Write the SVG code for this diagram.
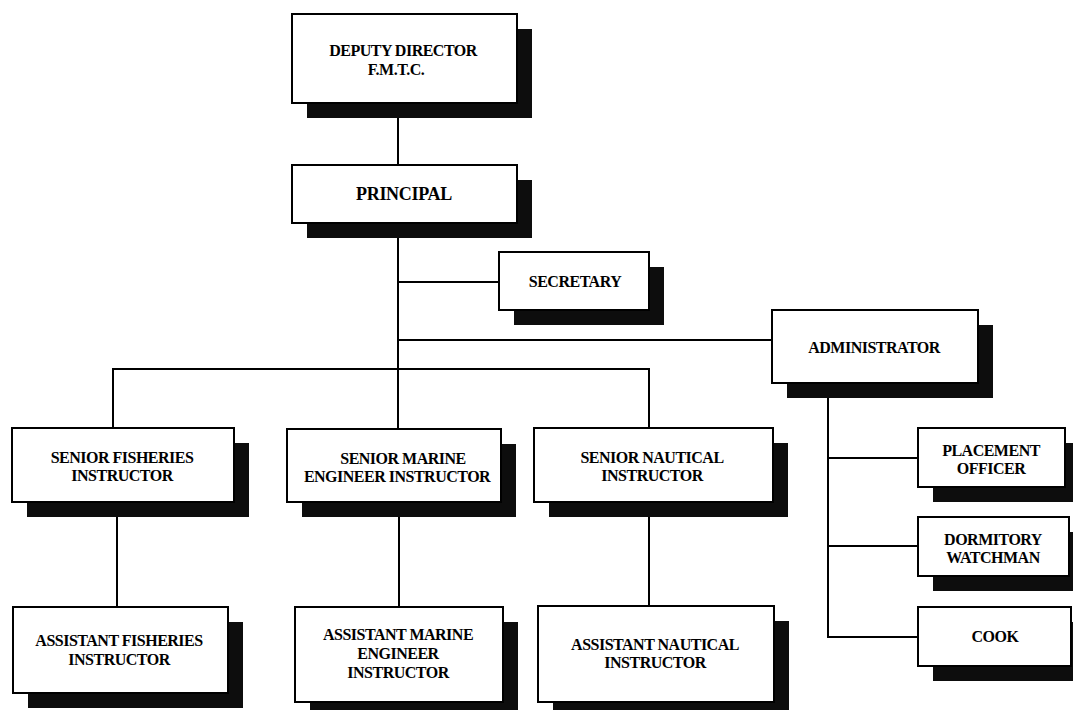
<svg xmlns="http://www.w3.org/2000/svg" width="1073" height="710" viewBox="0 0 1073 710">
<style>
.sh{fill:#0d0d0d}
.bx{fill:#fff;stroke:#000;stroke-width:2}
.ln{stroke:#000;stroke-width:2;fill:none}
.t{font-family:"Liberation Serif","Times New Roman",serif;font-weight:bold;font-size:16px;text-anchor:middle;letter-spacing:-0.5px;fill:#000}
.big{font-size:18px;letter-spacing:-0.3px}
</style>
<rect width="1073" height="710" fill="#fff"/>
<g id="connectors">
<path class="ln" d="M398 103V428"/>
<path class="ln" d="M398 282H499"/>
<path class="ln" d="M398 340H772"/>
<path class="ln" d="M113 428V369H649V428"/>
<path class="ln" d="M117 502V607"/>
<path class="ln" d="M399 502V607"/>
<path class="ln" d="M649 502V606"/>
<path class="ln" d="M828 383V637H918"/>
<path class="ln" d="M828 458H918"/>
<path class="ln" d="M828 546H918"/>
</g>
<g id="deputy-director">
<rect class="sh" x="307" y="29" width="225" height="89"/>
<rect class="bx" x="292" y="14" width="225" height="89"/>
<text class="t" x="403" y="56">DEPUTY DIRECTOR</text>
<text class="t" x="396" y="75">F.M.T.C.</text>
</g>
<g id="principal">
<rect class="sh" x="307" y="180" width="225" height="58"/>
<rect class="bx" x="292" y="165" width="225" height="58"/>
<text class="t big" x="404" y="200">PRINCIPAL</text>
</g>
<g id="secretary">
<rect class="sh" x="514" y="267" width="150" height="58"/>
<rect class="bx" x="499" y="252" width="150" height="58"/>
<text class="t" x="575" y="287">SECRETARY</text>
</g>
<g id="administrator">
<rect class="sh" x="787" y="325" width="206" height="73"/>
<rect class="bx" x="772" y="310" width="206" height="73"/>
<text class="t" x="874" y="353">ADMINISTRATOR</text>
</g>
<g id="senior-fisheries">
<rect class="sh" x="27" y="443" width="222" height="74"/>
<rect class="bx" x="12" y="428" width="222" height="74"/>
<text class="t" x="122" y="463">SENIOR FISHERIES</text>
<text class="t" x="122" y="481">INSTRUCTOR</text>
</g>
<g id="senior-marine">
<rect class="sh" x="302" y="444" width="214" height="73"/>
<rect class="bx" x="287" y="429" width="214" height="73"/>
<text class="t" x="403" y="464">SENIOR MARINE</text>
<text class="t" x="397" y="482">ENGINEER INSTRUCTOR</text>
</g>
<g id="senior-nautical">
<rect class="sh" x="549" y="443" width="239" height="74"/>
<rect class="bx" x="534" y="428" width="239" height="74"/>
<text class="t" x="652" y="463">SENIOR NAUTICAL</text>
<text class="t" x="652" y="481">INSTRUCTOR</text>
</g>
<g id="assistant-fisheries">
<rect class="sh" x="28" y="622" width="215" height="86"/>
<rect class="bx" x="13" y="607" width="215" height="86"/>
<text class="t" x="119" y="646">ASSISTANT FISHERIES</text>
<text class="t" x="119" y="665">INSTRUCTOR</text>
</g>
<g id="assistant-marine">
<rect class="sh" x="310" y="622" width="208" height="95"/>
<rect class="bx" x="295" y="607" width="208" height="95"/>
<text class="t" x="398" y="640">ASSISTANT MARINE</text>
<text class="t" x="398" y="659">ENGINEER</text>
<text class="t" x="398" y="678">INSTRUCTOR</text>
</g>
<g id="assistant-nautical">
<rect class="sh" x="553" y="621" width="236" height="96"/>
<rect class="bx" x="538" y="606" width="236" height="96"/>
<text class="t" x="655" y="650">ASSISTANT NAUTICAL</text>
<text class="t" x="655" y="668">INSTRUCTOR</text>
</g>
<g id="placement-officer">
<rect class="sh" x="933" y="443" width="147" height="59"/>
<rect class="bx" x="918" y="428" width="147" height="59"/>
<text class="t" x="991" y="456">PLACEMENT</text>
<text class="t" x="991" y="474">OFFICER</text>
</g>
<g id="dormitory-watchman">
<rect class="sh" x="933" y="532" width="151" height="59"/>
<rect class="bx" x="918" y="517" width="151" height="59"/>
<text class="t" x="993" y="545">DORMITORY</text>
<text class="t" x="993" y="563">WATCHMAN</text>
</g>
<g id="cook">
<rect class="sh" x="933" y="622" width="153" height="59"/>
<rect class="bx" x="918" y="607" width="153" height="59"/>
<text class="t" x="995" y="642">COOK</text>
</g>
</svg>
